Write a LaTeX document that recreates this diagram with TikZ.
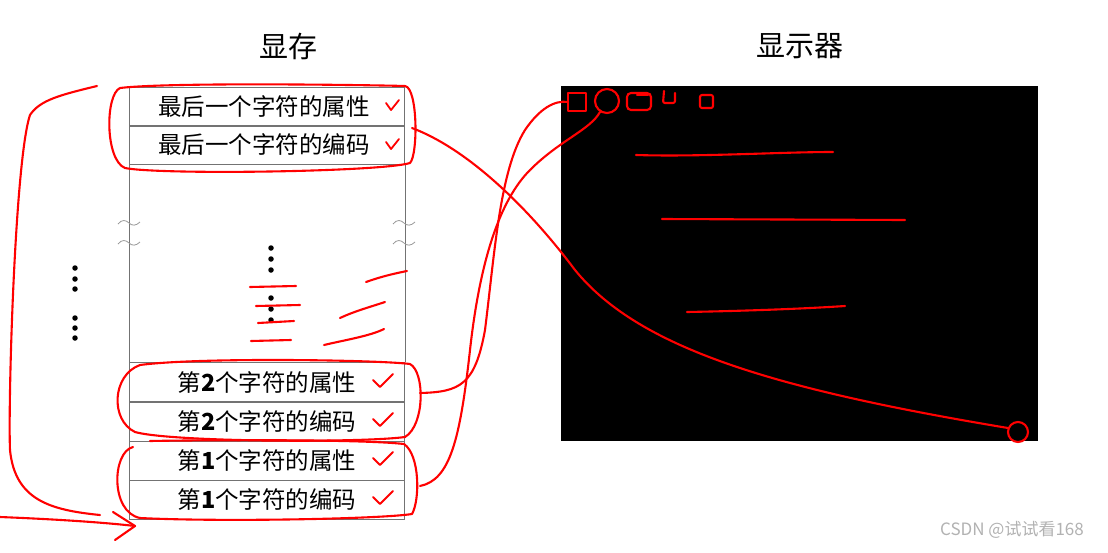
\documentclass[tikz,border=0pt]{standalone}
\usepackage{fontspec}
\setmainfont{Noto Sans CJK SC}
\usetikzlibrary{calc}
\tikzset{
  cell/.style={draw=black!55, line width=0.9pt, minimum width=275pt, minimum height=39pt, inner sep=0pt, font=\fontsize{23.5}{23.5}\selectfont},
  ink/.style={draw=red, line width=2.1pt, line cap=round, line join=round},
  chk/.style={ink, line width=1.8pt},
  dot/.style={fill=black, circle, inner sep=0pt, minimum size=5.5pt},
  title/.style={font=\fontsize{29}{29}\selectfont},
}
\begin{document}
\begin{tikzpicture}[x=1pt,y=-1pt]
\useasboundingbox (0,0) rectangle (1108,552);
\fill[white] (0,0) rectangle (1108,552);
% titles
\node[title] (t1) at (288,46) {显存};
\node[title] (t2) at (800,46) {显示器};
% screen
\fill[black] (561,86) rectangle (1038,441);
% column
\node[cell] (r1) at (267,106.5) {\hspace*{-6pt}最后一个字符的属性};
\node[cell] (r2) at (267,145) {\hspace*{-6pt}最后一个字符的编码};
\node[cell] (r3) at (267,382) {第\textbf{2}个字符的属性};
\node[cell] (r4) at (267,421.5) {第\textbf{2}个字符的编码};
\node[cell] (r5) at (267,460.5) {第\textbf{1}个字符的属性};
\node[cell] (r6) at (267,499.5) {第\textbf{1}个字符的编码};
\draw[black!55, line width=0.9pt] (r2.south west) -- (r3.north west);
\draw[black!55, line width=0.9pt] (r2.south east) -- (r3.north east);
% break marks
\foreach \yy in {223,243}{
  \draw[black!40, line width=0.8pt] (118,\yy+1) .. controls (122,\yy-4) and (126,\yy-3) .. (129,\yy) .. controls (132,\yy+3) and (136,\yy+3) .. (140,\yy-1);
  \draw[black!40, line width=0.8pt] (393,\yy+1) .. controls (397,\yy-4) and (401,\yy-3) .. (404,\yy) .. controls (407,\yy+3) and (411,\yy+3) .. (415,\yy-1);
}
% dots
\foreach \yy [count=\i] in {248,259,270,298,309,320}{ \node[dot] (cd\i) at (271,\yy) {}; }
\foreach \yy [count=\i] in {268,279,289,318,328,338}{ \node[dot] (ld\i) at (75,\yy) {}; }
% check marks
\foreach \yy in {106,145}{ \draw[chk] (386,\yy-3) -- (391,\yy+4) -- (399,\yy-6); }
\foreach \yy in {382,421,460,499}{ \draw[chk] (373,\yy-2) -- (380,\yy+5) -- (393,\yy-8); }
% red strokes in column
\draw[ink] (250,287) -- (296,286);
\draw[ink] (256,306) -- (300,305);
\draw[ink] (258,323) -- (294,321);
\draw[ink] (251,341) -- (291,340);
\draw[ink] (366,282) .. controls (380,277) and (392,274) .. (407,271);
\draw[ink] (340,318) .. controls (355,311) and (370,307) .. (385,302);
\draw[ink] (324,345) .. controls (345,340) and (370,336) .. (384,329);
% red loops around rows
\draw[ink] (120,88) .. controls (170,82) and (370,85) .. (405,86) .. controls (418,88) and (418,155) .. (410,163) .. controls (380,172) and (160,175) .. (125,168) .. controls (105,160) and (105,95) .. (120,88);
\draw[ink] (140,365) .. controls (200,357) and (380,360) .. (410,364) .. controls (425,372) and (425,425) .. (405,437) .. controls (360,443) and (170,442) .. (135,432) .. controls (110,420) and (112,375) .. (140,365);
\draw[ink] (133,447) .. controls (112,452) and (110,512) .. (140,518) .. controls (220,522) and (380,519) .. (412,514) .. controls (420,500) and (420,455) .. (404,444) .. controls (360,439) and (200,440) .. (150,441);
% left bracket and arrow
\draw[ink] (97,86) .. controls (60,95) and (40,100) .. (30,115) .. controls (15,160) and (8,400) .. (10,450) .. controls (15,500) and (50,510) .. (100,515);
\draw[ink] (0,517) .. controls (50,519) and (100,522) .. (135,526);
\draw[ink] (113,512) -- (135,526) -- (115,540);
% screen marks
\draw[ink] (568,93) rectangle (586,111);
\node[ink, circle, minimum size=24pt, inner sep=0pt] (c2) at (607,101) {};
\draw[ink, rounded corners=4pt] (627,93) rectangle (651,110);
\draw[ink] (637,95) -- (648,95);
\draw[ink, rounded corners=2pt] (664,91) -- (663,103) -- (675,103) -- (675,93);
\draw[ink, rounded corners=2pt] (700,95) rectangle (713,108);
\draw[ink] (636,155) .. controls (700,157) and (780,152) .. (833,152);
\draw[ink] (662,219) -- (905,220);
\draw[ink] (687,312) .. controls (740,311) and (800,309) .. (845,306);
\node[ink, circle, minimum size=20pt, inner sep=0pt] (c3) at (1018,432) {};
% connectors
\draw[ink] (412,128) .. controls (470,150) and (530,210) .. (575,270) .. controls (640,350) and (780,390) .. (1008,428);
\draw[ink] (420,393) .. controls (460,392) and (475,385) .. (485,330) .. controls (495,250) and (500,170) .. (525,130) .. controls (540,108) and (555,100) .. (568,102);
\draw[ink] (420,486) .. controls (450,480) and (460,440) .. (470,350) .. controls (480,260) and (500,200) .. (530,170) .. controls (560,140) and (590,130) .. (600,112);
% watermark
\node[text=black!30, font=\fontsize{17}{17}\selectfont] (wm) at (1012,530) {CSDN @试试看168};
\end{tikzpicture}
\end{document}
